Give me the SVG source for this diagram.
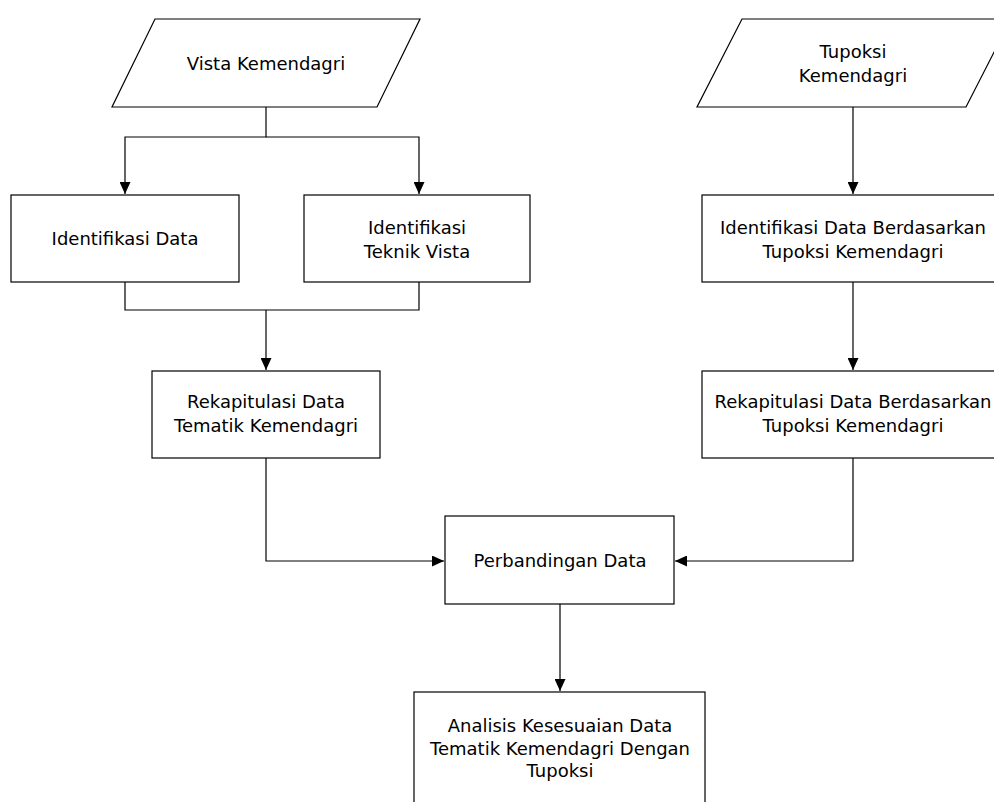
<svg xmlns="http://www.w3.org/2000/svg" width="994" height="802" viewBox="0 0 994 802">
<defs>
<marker id="ah" markerWidth="12" markerHeight="11" refX="12" refY="5.5" orient="auto" markerUnits="userSpaceOnUse">
<path d="M0,0 L12,5.5 L0,11 Z" fill="#000"/>
</marker>
<style>
.n{fill:#fff;stroke:#000;stroke-width:1.2}
.t{font-family:"DejaVu Sans",Verdana,sans-serif;font-size:18px;fill:#000;text-anchor:middle}
.c{fill:none;stroke:#000;stroke-width:1.2}
</style>
</defs>
<rect width="994" height="802" fill="#fff"/>
<g id="connectors">
<path class="c" d="M266,107 V137 H125 V194" marker-end="url(#ah)"/>
<path class="c" d="M266,137 H419 V194" marker-end="url(#ah)"/>
<path class="c" d="M125,282 V310 H419 V282"/>
<path class="c" d="M266,310 V370" marker-end="url(#ah)"/>
<path class="c" d="M853,107 V194" marker-end="url(#ah)"/>
<path class="c" d="M853,282 V370" marker-end="url(#ah)"/>
<path class="c" d="M266,458 V561 H444" marker-end="url(#ah)"/>
<path class="c" d="M853,458 V561 H675" marker-end="url(#ah)"/>
<path class="c" d="M560,604 V691" marker-end="url(#ah)"/>
</g>
<g id="vista">
<polygon class="n" points="155,19 420,19 377,107 112,107"/>
<text class="t" x="266" y="70">Vista Kemendagri</text>
</g>
<g id="tupoksi">
<polygon class="n" points="742,19 1011,19 966,107 697,107"/>
<text class="t" x="853" y="58">Tupoksi</text>
<text class="t" x="853" y="82">Kemendagri</text>
</g>
<g id="identifikasi-data">
<rect class="n" x="11" y="195" width="228" height="87"/>
<text class="t" x="125" y="245">Identifikasi Data</text>
</g>
<g id="identifikasi-teknik">
<rect class="n" x="304" y="195" width="226" height="87"/>
<text class="t" x="417" y="234">Identifikasi</text>
<text class="t" x="417" y="258">Teknik Vista</text>
</g>
<g id="identifikasi-tupoksi">
<rect class="n" x="702" y="195" width="302" height="87"/>
<text class="t" x="853" y="234">Identifikasi Data Berdasarkan</text>
<text class="t" x="853" y="258">Tupoksi Kemendagri</text>
</g>
<g id="rekap-tematik">
<rect class="n" x="152" y="371" width="228" height="87"/>
<text class="t" x="266" y="408">Rekapitulasi Data</text>
<text class="t" x="266" y="432">Tematik Kemendagri</text>
</g>
<g id="rekap-tupoksi">
<rect class="n" x="702" y="371" width="302" height="87"/>
<text class="t" x="853" y="408">Rekapitulasi Data Berdasarkan</text>
<text class="t" x="853" y="432">Tupoksi Kemendagri</text>
</g>
<g id="perbandingan">
<rect class="n" x="445" y="516" width="229" height="88"/>
<text class="t" x="560" y="567">Perbandingan Data</text>
</g>
<g id="analisis">
<rect class="n" x="414" y="692" width="291" height="130"/>
<text class="t" x="560" y="732">Analisis Kesesuaian Data</text>
<text class="t" x="560" y="755">Tematik Kemendagri Dengan</text>
<text class="t" x="560" y="777">Tupoksi</text>
</g>
</svg>
